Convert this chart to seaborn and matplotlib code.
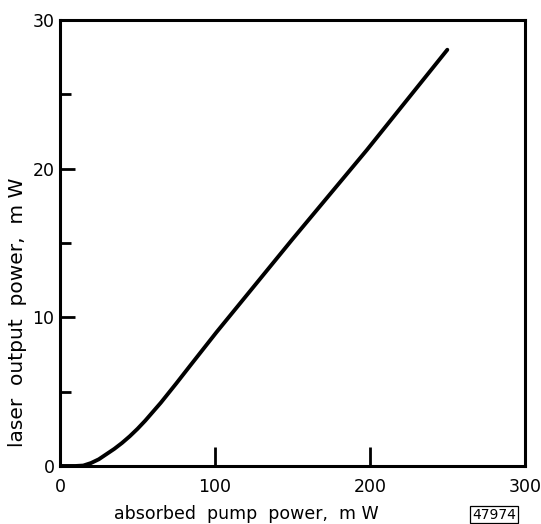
import pandas as pd
import matplotlib
matplotlib.use('Agg')
import matplotlib.pyplot as plt
import seaborn as sns

# values
pump_mw = [0, 10, 15, 20, 25, 30, 35, 40, 45, 50, 55, 65, 75, 84, 101, 150, 198, 250]
laser_mw = [0, 0, 0.03, 0.2, 0.45, 0.8, 1.15, 1.55, 2.0, 2.5, 3.05, 4.25, 5.55, 6.75, 9.0, 15.25, 21.25, 28.0]

x_ticks = [0, 100, 200, 300]
y_major = [0, 10, 20, 30]
y_minor = [5, 15, 25]

df = pd.DataFrame({'pump': pump_mw, 'laser': laser_mw})

sns.set_style('white')
plt.rcParams['font.family'] = ['DejaVu Sans']
plt.rcParams['text.color'] = 'black'
plt.rcParams['axes.labelcolor'] = 'black'
plt.rcParams['xtick.color'] = 'black'
plt.rcParams['ytick.color'] = 'black'

fig = plt.figure(figsize=(5.41, 5.24), dpi=100)
ax = fig.add_axes([0.111, 0.1107, 0.859, 0.8511])

sns.lineplot(data=df, x='pump', y='laser', color='black', linewidth=2.8,
             solid_capstyle='round', solid_joinstyle='round', ax=ax)

ax.set_xlim(0, 300)
ax.set_ylim(0, 30)
for s in ax.spines.values():
    s.set_linewidth(2.2)
    s.set_color('black')

ax.set_xticks(x_ticks)
ax.set_yticks(y_major)
ax.set_yticks(y_minor, minor=True)
ax.tick_params(axis='x', which='major', direction='in', length=14, width=2.0,
               pad=9, labelsize=12.5, bottom=True)
ax.tick_params(axis='y', which='major', direction='in', length=11, width=2.0,
               pad=4, labelsize=12.5, left=True)
ax.tick_params(axis='y', which='minor', direction='in', length=8, width=2.0, left=True)

ax.set_xlabel('absorbed  pump  power,  m W', fontsize=12.5)
ax.set_ylabel('laser  output  power,  m W', fontsize=14.5)
ax.xaxis.set_label_coords(0.40, -0.087)
ax.yaxis.set_label_coords(-0.071, 0.345)

fig.text(0.913, 0.018, '47974', fontsize=10, ha='center', va='center',
         bbox=dict(boxstyle='square,pad=0.12', fc='white', ec='black', lw=0.9))

fig.savefig('out.png', dpi=100)
